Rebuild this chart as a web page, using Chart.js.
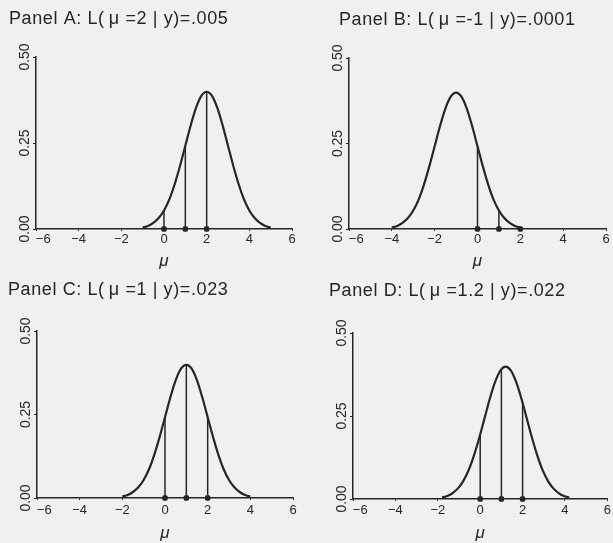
<!DOCTYPE html>
<html><head><meta charset="utf-8">
<script src="https://cdn.jsdelivr.net/npm/chart.js@4.4.1/dist/chart.umd.min.js"></script>
<style>
html,body{margin:0;padding:0;background:#f0f0ee;}
#wrap{position:relative;width:613px;height:543px;overflow:hidden;background:#f0f0ee;}
canvas{position:absolute;}
</style></head><body><div id="wrap">
<canvas id="cA" width="306" height="271" style="left:0;top:0"></canvas>
<canvas id="cB" width="307" height="271" style="left:306px;top:0"></canvas>
<canvas id="cC" width="306" height="272" style="left:0;top:271px"></canvas>
<canvas id="cD" width="307" height="272" style="left:306px;top:271px"></canvas>
</div>
<script>
// ---- data ----
const xTicks = [-6, -4, -2, 0, 2, 4, 6];
const yTicks = [0, 0.25, 0.5];
const yTickLabels = ['0.00', '0.25', '0.50'];
const observations = [0, 1, 2];

const titleA = 'Panel A: L(\u2009\u03bc =2 | y)=.005';
const titleB = 'Panel B: L(\u2009\u03bc =-1 | y)=.0001';
const titleC = 'Panel C: L(\u2009\u03bc =1 | y)=.023';
const titleD = 'Panel D: L(\u2009\u03bc =1.2 | y)=.022';

const curveAx = [-1,-0.75,-0.5,-0.25,0,0.25,0.5,0.75,1,1.25,1.5,1.75,2,2.25,2.5,2.75,3,3.25,3.5,3.75,4,4.25,4.5,4.75,5];
const curveAy = [0.004,0.009,0.018,0.032,0.054,0.086,0.130,0.183,0.242,0.301,0.352,0.387,0.399,0.387,0.352,0.301,0.242,0.183,0.130,0.086,0.054,0.032,0.018,0.009,0.004];
const curveBx = [-4,-3.75,-3.5,-3.25,-3,-2.75,-2.5,-2.25,-2,-1.75,-1.5,-1.25,-1,-0.75,-0.5,-0.25,0,0.25,0.5,0.75,1,1.25,1.5,1.75,2];
const curveBy = [0.004,0.009,0.018,0.032,0.054,0.086,0.130,0.183,0.242,0.301,0.352,0.387,0.399,0.387,0.352,0.301,0.242,0.183,0.130,0.086,0.054,0.032,0.018,0.009,0.004];
const curveCx = [-2,-1.75,-1.5,-1.25,-1,-0.75,-0.5,-0.25,0,0.25,0.5,0.75,1,1.25,1.5,1.75,2,2.25,2.5,2.75,3,3.25,3.5,3.75,4];
const curveCy = [0.004,0.009,0.018,0.032,0.054,0.086,0.130,0.183,0.242,0.301,0.352,0.387,0.399,0.387,0.352,0.301,0.242,0.183,0.130,0.086,0.054,0.032,0.018,0.009,0.004];
const curveDx = [-1.8,-1.55,-1.3,-1.05,-0.8,-0.55,-0.3,-0.05,0.2,0.45,0.7,0.95,1.2,1.45,1.7,1.95,2.2,2.45,2.7,2.95,3.2,3.45,3.7,3.95,4.2];
const curveDy = [0.004,0.009,0.018,0.032,0.054,0.086,0.130,0.183,0.242,0.301,0.352,0.387,0.399,0.387,0.352,0.301,0.242,0.183,0.130,0.086,0.054,0.032,0.018,0.009,0.004];

const stemsA = [0.054, 0.242, 0.399];
const stemsB = [0.242, 0.054, 0.004];
const stemsC = [0.242, 0.399, 0.242];
const stemsD = [0.194, 0.391, 0.290];

// ---- drawing ----
const ink = '#262626';
const fam = '"Liberation Sans", Arial, sans-serif';

function fmtX(v) {
  if (v === -6) return '\u2007\u2007\u2212' + '6';
  return v < 0 ? '\u2212' + Math.abs(v) : String(v);
}

function makeChart(id, L, cx, cy, stems, title) {
  const datasets = [];
  datasets.push({
    data: cx.map((x, i) => ({x: x, y: cy[i]})),
    showLine: true, borderColor: ink, borderWidth: 2.2, pointRadius: 0,
    cubicInterpolationMode: 'monotone', fill: false, clip: false
  });
  observations.forEach((x, i) => {
    datasets.push({
      data: [{x: x, y: 0}, {x: x, y: stems[i]}],
      showLine: true, borderColor: ink, borderWidth: 1.5, pointRadius: 0, clip: false
    });
  });
  datasets.push({
    data: observations.map(x => ({x: x, y: 0})),
    showLine: false, pointRadius: 3.2, pointStyle: 'rectRounded',
    pointBackgroundColor: ink, pointBorderColor: ink, pointBorderWidth: 0, clip: false
  });

  const deco = {
    id: 'deco' + id,
    afterDraw(chart) {
      const ctx = chart.ctx, ys = chart.scales.y;
      ctx.save();
      ctx.fillStyle = ink;
      ctx.font = '14px ' + fam;
      yTicks.forEach((v, i) => {
        ctx.save();
        ctx.translate(L.left - 11, ys.getPixelForValue(v));
        ctx.rotate(-Math.PI / 2);
        ctx.textAlign = 'center';
        ctx.textBaseline = 'middle';
        ctx.fillText(yTickLabels[i], 0, 0);
        ctx.restore();
      });
      ctx.font = '18px ' + fam;
      ctx.letterSpacing = '0.6px';
      ctx.textAlign = 'left';
      ctx.textBaseline = 'middle';
      ctx.fillText(title, L.tx, L.ty);
      ctx.restore();
    }
  };

  new Chart(document.getElementById(id), {
    type: 'scatter',
    data: {datasets: datasets},
    plugins: [deco],
    options: {
      responsive: false, animation: false, events: [],
      devicePixelRatio: 1,
      layout: {padding: {top: L.top, left: 0, right: L.W - L.right, bottom: 0}},
      plugins: {legend: {display: false}, tooltip: {enabled: false}, title: {display: false}},
      scales: {
        x: {
          type: 'linear', min: -6, max: 6,
          afterBuildTicks: s => { s.ticks = xTicks.map(v => ({value: v})); },
          afterFit: s => { s.height = L.H - L.bottom; },
          ticks: {autoSkip: false, maxRotation: 0, minRotation: 0, padding: L.tpad,
                  color: ink, font: {size: 13, family: fam}, callback: v => fmtX(v)},
          grid: {drawOnChartArea: false, drawTicks: true, tickLength: 2, color: ink, lineWidth: 1},
          border: {display: true, color: ink, width: 1.5},
          title: {display: true, text: '\u03bc', color: ink, padding: 0,
                  font: {size: 17, style: 'italic', family: fam}}
        },
        y: {
          type: 'linear', min: 0, max: 0.5,
          afterBuildTicks: s => { s.ticks = yTicks.map(v => ({value: v})); },
          afterFit: s => { s.width = L.left; },
          ticks: {display: false},
          grid: {drawOnChartArea: false, drawTicks: true, tickLength: 3, color: ink, lineWidth: 1},
          border: {display: true, color: ink, width: 1.5}
        }
      }
    }
  });
}

makeChart('cA', {W: 306, H: 271, left: 36, right: 292, top: 57, bottom: 229, tx: 9, ty: 19, tpad: 1}, curveAx, curveAy, stemsA, titleA);
makeChart('cB', {W: 307, H: 271, left: 43, right: 300, top: 58, bottom: 229, tx: 33, ty: 20, tpad: 1}, curveBx, curveBy, stemsB, titleB);
makeChart('cC', {W: 306, H: 272, left: 37, right: 293, top: 60, bottom: 227, tx: 8, ty: 19, tpad: 3}, curveCx, curveCy, stemsC, titleC);
makeChart('cD', {W: 307, H: 272, left: 47, right: 302, top: 62, bottom: 228, tx: 23, ty: 20, tpad: 2}, curveDx, curveDy, stemsD, titleD);
</script>
</body></html>
